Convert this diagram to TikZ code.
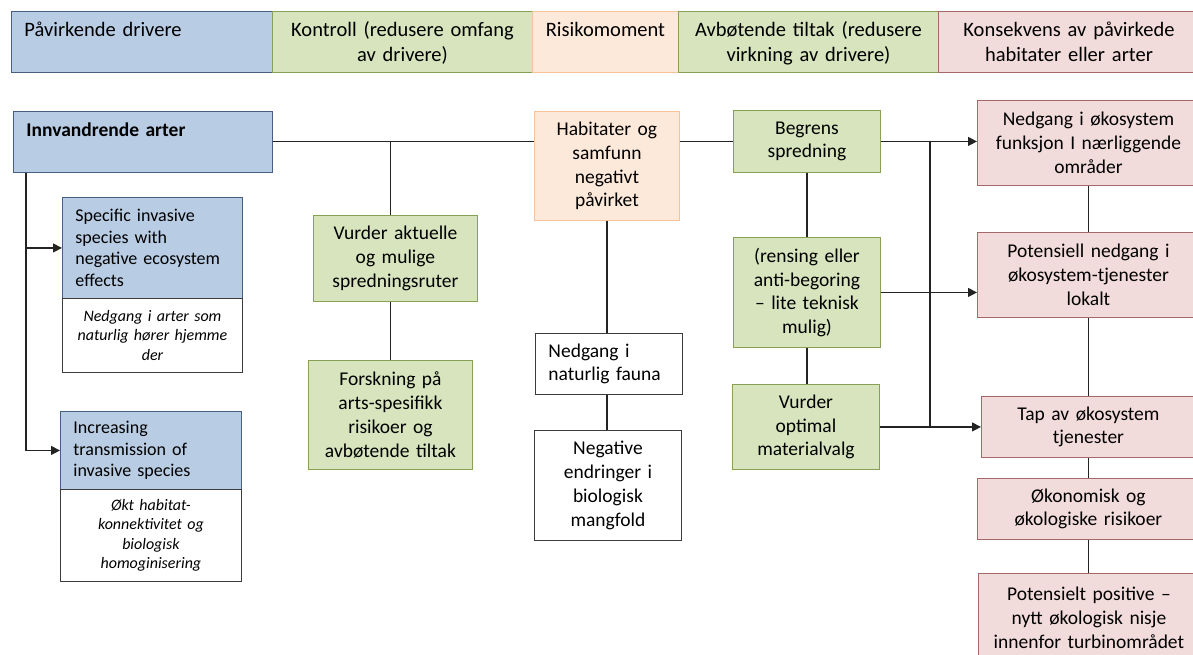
\documentclass[tikz,border=0pt]{standalone}
\usepackage{fontspec}
\setmainfont{Carlito}
\usepackage{tikz}
\usetikzlibrary{arrows.meta, positioning}
\definecolor{mydark}{RGB}{35,35,35}
\definecolor{myblue}{RGB}{70,95,130}
\definecolor{mygreen}{RGB}{135,160,85}
\definecolor{mypeach}{RGB}{245,195,155}
\definecolor{mypink}{RGB}{165,105,105}
\definecolor{mygray}{RGB}{60,60,60}
\definecolor{hdrblue}{RGB}{184,204,228}
\definecolor{hdrgreen}{RGB}{215,228,189}
\definecolor{hdrpeach}{RGB}{253,233,217}
\definecolor{hdrpink}{RGB}{242,220,219}
\tikzset{
  block/.style={rectangle, draw=mygray, fill=white, anchor=north west,
    align=center, inner xsep=5pt, line width=0.9pt,
    font=\fontsize{19.5}{23.8}\selectfont},
  blueblock/.style={block, draw=myblue, fill=hdrblue},
  greenblock/.style={block, draw=mygreen, fill=hdrgreen},
  peachblock/.style={block, draw=mypeach, fill=hdrpeach},
  pinkblock/.style={block, draw=mypink, fill=hdrpink},
  hdrbox/.style={inner ysep=0pt, text height=25pt, text depth=36pt,
    font=\fontsize{20.5}{25}\selectfont},
  leftbox/.style={align=left, inner xsep=13pt},
  smallbox/.style={font=\fontsize{18}{21.7}\selectfont},
  notebox/.style={block, font=\fontsize{16}{19.5}\selectfont\itshape},
  arrow/.style={-{Triangle[length=9pt,width=9pt]}, line width=1.1pt, color=mydark},
  line/.style={line width=1.1pt, color=mydark}
}
\begin{document}
\begin{tikzpicture}[x=1pt, y=-1pt]
  \useasboundingbox (0,0) rectangle (1193,655);
  \clip (0,0) rectangle (1193,655);

  % column headers
  \node[blueblock, hdrbox, leftbox, text width=235pt] (hdrdrv) at (11,11) {Påvirkende drivere};
  \node[greenblock, hdrbox, text width=250pt] (hdrktr) at (272,11) {Kontroll (redusere omfang\\av drivere)};
  \node[peachblock, hdrbox, text width=136pt] (hdrrisk) at (532,11) {Risikomoment};
  \node[greenblock, hdrbox, text width=250pt] (hdravb) at (678,11) {Avbøtende tiltak (redusere\\virkning av drivere)};
  \node[pinkblock, hdrbox, text width=251pt] (hdrkons) at (938,11) {Konsekvens av påvirkede\\habitater eller arter};

  % drivers
  \node[blueblock, hdrbox, leftbox, text width=233pt, font=\fontsize{19.5}{23.8}\selectfont\bfseries] (innv) at (13,111) {Innvandrende arter};
  \node[blueblock, leftbox, smallbox, text width=154pt, minimum height=101pt] (spec) at (62,197) {Specific invasive\\species with\\negative ecosystem\\effects};
  \node[notebox, text width=170pt, minimum height=74pt] (specsub) at (62,298) {Nedgang i arter som\\naturlig hører hjemme\\der};
  \node[blueblock, leftbox, smallbox, text width=155pt, minimum height=78pt] (incr) at (60,411) {Increasing\\transmission of\\invasive species};
  \node[notebox, text width=171pt, minimum height=92pt] (incrsub) at (60,489) {Økt habitat-\\konnektivitet og\\biologisk\\homoginisering};

  % control
  \node[greenblock, text width=154pt, minimum height=86pt] (vurd) at (313,215) {Vurder aktuelle\\og mulige\\spredningsruter};
  \node[greenblock, text width=154pt, minimum height=109pt] (fors) at (308,360) {Forskning på\\arts-spesifikk\\risikoer og\\avbøtende tiltak};

  % risk
  \node[peachblock, text width=135pt, minimum height=109pt] (hab) at (534,111) {Habitater og\\samfunn\\negativt\\påvirket};
  \node[block, leftbox, text width=121pt, minimum height=61pt] (fauna) at (535,333) {Nedgang i\\naturlig fauna};
  \node[block, text width=137pt, minimum height=110pt] (negend) at (534,430) {Negative\\endringer i\\biologisk\\mangfold};

  % mitigation
  \node[greenblock, text width=137pt, minimum height=62pt] (begr) at (733,110) {Begrens\\spredning};
  \node[greenblock, text width=137pt, minimum height=110pt] (rens) at (733,237) {(rensing eller\\anti-begoring\\– lite teknisk\\mulig)};
  \node[greenblock, text width=137pt, minimum height=85pt] (opt) at (732,384) {Vurder\\optimal\\materialvalg};

  % consequences
  \node[pinkblock, text width=212pt, minimum height=85pt] (oko) at (977,100) {Nedgang i økosystem\\funksjon I nærliggende\\områder};
  \node[pinkblock, text width=212pt, minimum height=85pt] (pot) at (977,232) {Potensiell nedgang i\\økosystem-tjenester\\lokalt};
  \node[pinkblock, text width=204pt, minimum height=61pt] (tap) at (981,396) {Tap av økosystem\\tjenester};
  \node[pinkblock, text width=212pt, minimum height=61pt] (okon) at (977,478) {Økonomisk og\\økologiske risikoer};
  \node[pinkblock, text width=211pt, minimum height=89pt] (posi) at (978,573) {Potensielt positive –\\nytt økologisk nisje\\innenfor turbinområdet};

  % connectors
  \coordinate (trunk) at ([xshift=13pt]innv.south west);
  \draw[arrow] (trunk) |- (spec.west);
  \draw[arrow] (trunk) |- (incr.west);
  \draw[line] (innv.east) -- (innv.east -| hab.west);
  \draw[line] (innv.east -| fors.north) -- (vurd.north -| fors.north);
  \draw[line] (vurd.south -| fors.north) -- (fors.north);
  \draw[line] (hab.south) -- (hab.south |- fauna.north);
  \draw[line] (hab.south |- fauna.south) -- (hab.south |- negend.north);
  \draw[line] (begr.west -| hab.east) -- (begr.west);
  \draw[arrow] (begr.east) -- (begr.east -| oko.west);
  \draw[line] (begr.south) -- (begr.south |- rens.north);
  \draw[line] (begr.south |- rens.south) -- (begr.south |- opt.north);
  \draw[arrow] (rens.east) -- (rens.east -| pot.west);
  \draw[arrow] (opt.east) -- (opt.east -| tap.west);
  \coordinate (jn) at (930,141);
  \draw[line] (jn) -- (jn |- opt.east);
  \draw[line] (oko.south) -- (pot.north);
  \draw[line] (pot.south) -- (pot.south |- tap.north);
  \draw[line] (pot.south |- tap.south) -- (pot.south |- okon.north);
  \draw[line] (okon.south) -- (okon.south |- posi.north);
\end{tikzpicture}
\end{document}
